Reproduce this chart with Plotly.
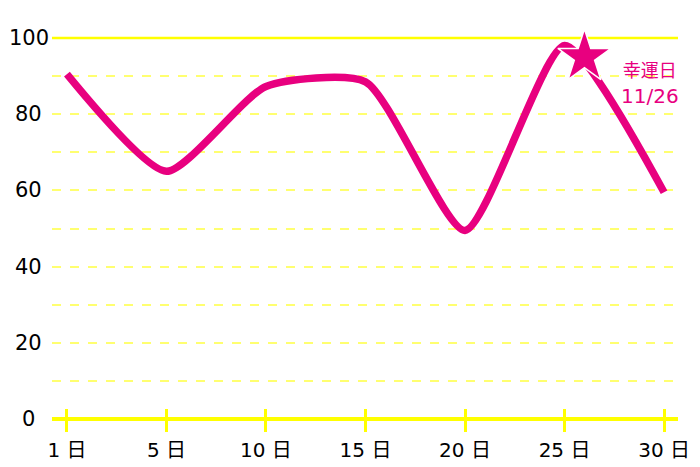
import plotly.graph_objects as go

# data
positions = [0, 5, 10, 15, 20, 25, 30]
tick_labels = ["1 日", "5 日", "10 日", "15 日", "20 日", "25 日", "30 日"]
values = [90.5, 65, 87.3, 88.5, 49.5, 98, 59.5]
lucky_pos = [26]
lucky_val = [95]
lucky_title = "幸運日"
lucky_date = "11/26"
y_ticks = [0, 20, 40, 60, 80, 100]
grid_dashed = [10, 20, 30, 40, 50, 60, 70, 80, 90]

PINK = "#e8007f"
YELLOW = "#ffff00"
FONT = "DejaVu Sans, Noto Sans CJK JP"

fig = go.Figure()
fig.add_trace(go.Scatter(
    x=positions, y=values, mode="lines",
    line=dict(color=PINK, width=7.5, shape="spline", smoothing=0.6),
    hoverinfo="skip"))
fig.add_trace(go.Scatter(
    x=lucky_pos, y=lucky_val, mode="markers",
    marker=dict(symbol="star", size=40, color=PINK, line=dict(color="white", width=1.5)),
    hoverinfo="skip"))

# solid line at 100
fig.add_shape(type="line", xref="paper", x0=0, x1=1, y0=y_ticks[-1], y1=y_ticks[-1],
              line=dict(color=YELLOW, width=2.5), layer="between")

# y tick labels centred
for v in y_ticks:
    fig.add_annotation(xref="paper", yref="y", x=-0.037, y=v, text=str(v),
                       showarrow=False, xanchor="center", yanchor="middle",
                       font=dict(family=FONT, size=21, color="black"))

fig.add_annotation(x=lucky_pos[0], y=lucky_val[0],
                   text=(f"<span style='font-family:Noto Sans CJK JP;font-size:18px'>{lucky_title}</span><br>"
                         f"<span style='font-size:20px'>{lucky_date}</span>"),
                   showarrow=False, xshift=66, yshift=-25, align="center",
                   font=dict(family=FONT, size=20, color=PINK))

fig.update_layout(
    width=700, height=467,
    margin=dict(l=44, r=30, t=22, b=43),
    paper_bgcolor="white", plot_bgcolor="white",
    showlegend=False,
    xaxis=dict(range=[-0.75, 30.7], tickvals=positions, ticktext=tick_labels,
               showgrid=False, zeroline=False, showline=False,
               ticks="inside", ticklen=23, tickwidth=3, tickcolor=YELLOW,
               ticklabelstandoff=4,
               tickfont=dict(family=FONT, size=20, color="black")),
    yaxis=dict(range=[-3.41, 102.1], tickvals=grid_dashed, showticklabels=False,
               showgrid=True, gridcolor="#ffff70", griddash="dash", gridwidth=1.5,
               zeroline=True, zerolinecolor=YELLOW, zerolinewidth=4, showline=False),
)

fig.write_html("out.html")
